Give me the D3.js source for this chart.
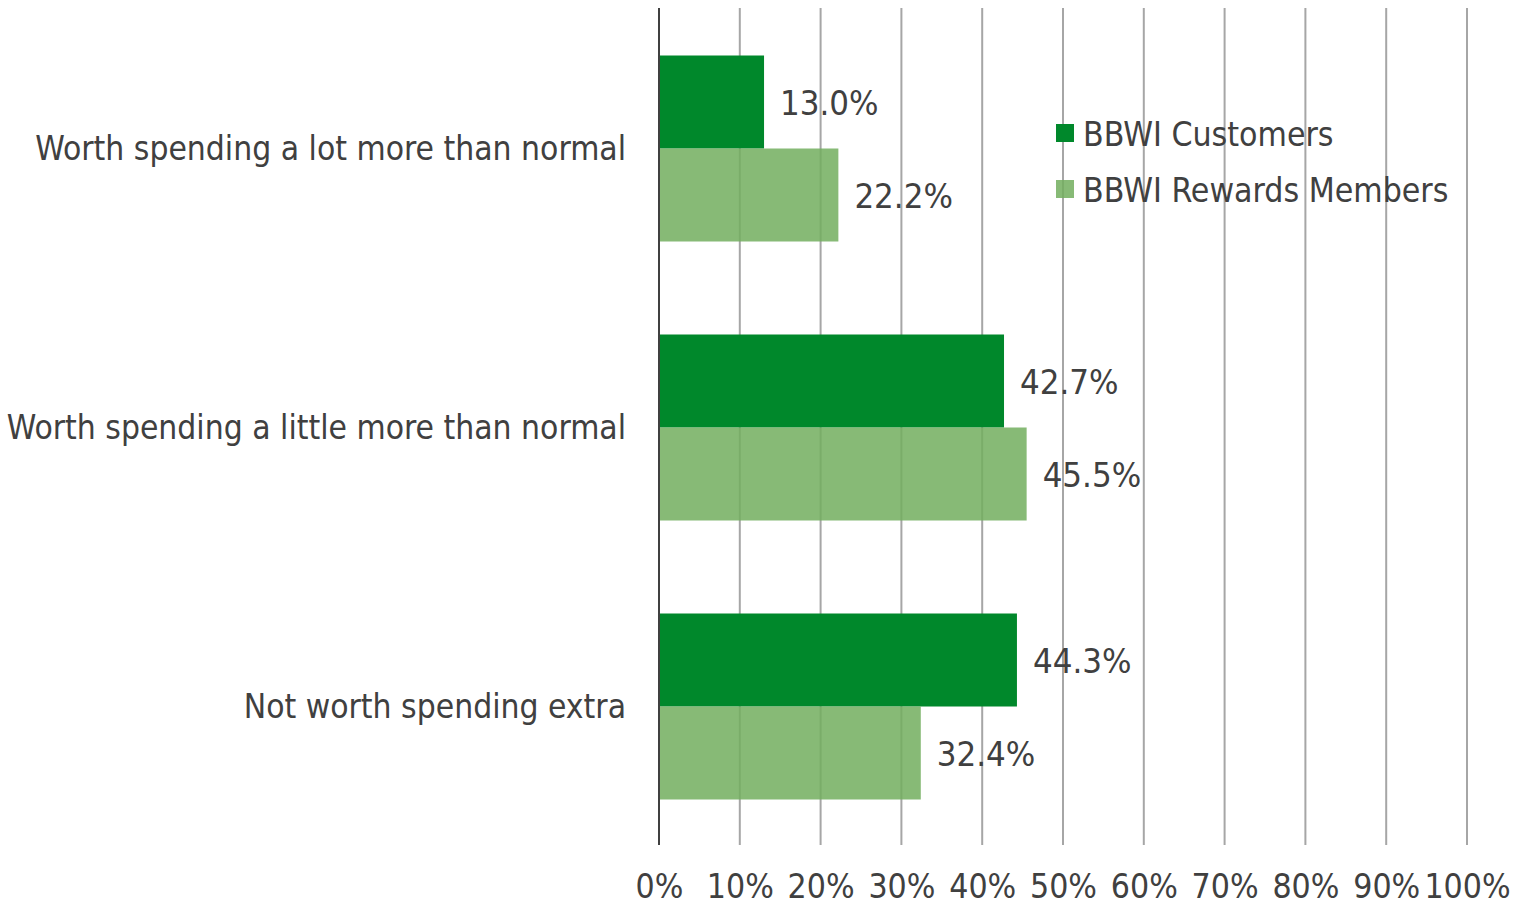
<!DOCTYPE html>
<html><head><meta charset="utf-8">
<script src="https://cdn.jsdelivr.net/npm/d3@7"></script>
<style>body{margin:0;background:#fff}text{font-family:"DejaVu Sans Condensed","DejaVu Sans",sans-serif;fill:#404040}</style>
</head><body><svg id="c" width="1529" height="907"></svg>
<script>
const categories = ["Worth spending a lot more than normal","Worth spending a little more than normal","Not worth spending extra"];
const seriesNames = ["BBWI Customers","BBWI Rewards Members"];
const customers = [13.0, 42.7, 44.3];
const rewards = [22.2, 45.5, 32.4];
const xTicks = [0,10,20,30,40,50,60,70,80,90,100];
const colors = ["#00882B","#72AE5E"];
const opac = [1, 0.85];

const svg = d3.select("#c");
const L=659, R=1467, T=8, B=845;
const x = d3.scaleLinear().domain([0,100]).range([L,R]);
const y = d3.scaleBand().domain(categories).range([T+1,B+1]).paddingInner(1/3).paddingOuter(1/6);
const sub = d3.scaleBand().domain(seriesNames).range([0,y.bandwidth()]);
const fs = 33.3, fn = 34.5, ft = 33.5;

// gridlines
svg.append("g").selectAll("line").data(xTicks.slice(1)).join("line")
  .attr("x1",d=>x(d)).attr("x2",d=>x(d)).attr("y1",T).attr("y2",B)
  .attr("stroke","#a6a6a6").attr("stroke-width",2);

const data = [];
categories.forEach((c,i)=>{ data.push({c,s:seriesNames[0],v:customers[i],k:0}); data.push({c,s:seriesNames[1],v:rewards[i],k:1}); });

svg.append("g").selectAll("rect").data(data).join("rect")
  .attr("x",x(0)).attr("y",d=>y(d.c)+sub(d.s)).attr("width",d=>x(d.v)-x(0)).attr("height",sub.bandwidth())
  .attr("fill",d=>colors[d.k]).attr("fill-opacity",d=>opac[d.k]);

svg.append("g").selectAll("text").data(data).join("text")
  .attr("x",d=>x(d.v)+16).attr("y",d=>y(d.c)+sub(d.s)+sub.bandwidth()/2+1)
  .attr("dy","0.35em").attr("font-size",fn).text(d=>d.v.toFixed(1)+"%");

// axis line
svg.append("line").attr("x1",x(0)).attr("x2",x(0)).attr("y1",T).attr("y2",B).attr("stroke","#404040").attr("stroke-width",2);

// x tick labels
const xa = d3.axisBottom(x).tickValues(xTicks).tickFormat(d=>d+"%").tickSize(0).tickPadding(0);
const gx = svg.append("g").attr("transform",`translate(0,${B})`).call(xa);
gx.select(".domain").remove();
gx.selectAll("text").attr("font-size",ft).attr("y",41.5).attr("dy","0.35em").style("fill","#404040").attr("font-family",null);

// category labels
const ya = d3.axisLeft(y).tickSize(0).tickPadding(0);
const gy = svg.append("g").attr("transform",`translate(626,0)`).call(ya);
gy.select(".domain").remove();
gy.selectAll("text").attr("font-size",fs).attr("dy","0.35em").style("fill","#404040").attr("font-family",null);

// legend
const lg = svg.append("g").attr("transform","translate(1056,133)");
seriesNames.forEach((s,i)=>{
  const g = lg.append("g").attr("transform",`translate(0,${i*56})`);
  g.append("rect").attr("x",0).attr("y",-9).attr("width",18).attr("height",18).attr("fill",colors[i]).attr("fill-opacity",opac[i]);
  g.append("text").attr("x",27).attr("y",1).attr("dy","0.35em").attr("font-size",33.5).text(s);
});
</script></body></html>
